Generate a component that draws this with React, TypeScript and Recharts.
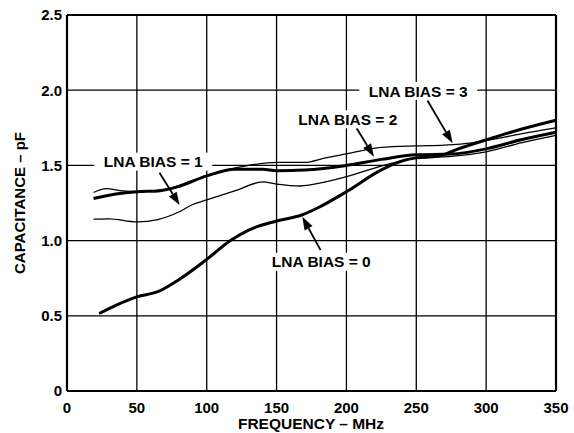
import { LineChart, Line, XAxis, YAxis, CartesianGrid, ReferenceLine, ReferenceDot, Label } from 'recharts'

const freqTicks = [0, 50, 100, 150, 200, 250, 300, 350]
const capTicks = [0, 0.5, 1, 1.5, 2, 2.5]

// LNA BIAS = 0 (heavy line)
const bias0Freq = [23, 35, 50, 65, 80, 100, 117, 130, 150, 168, 180, 200, 225, 240, 250, 265, 280, 300, 325, 350]
const bias0Cap = [0.515, 0.57, 0.626, 0.66, 0.74, 0.875, 1.0, 1.07, 1.13, 1.17, 1.22, 1.325, 1.47, 1.53, 1.55, 1.56, 1.61, 1.67, 1.74, 1.8]

// LNA BIAS = 1 (light line)
const bias1Freq = [19, 30, 50, 65, 80, 90, 100, 120, 140, 150, 167, 185, 200, 232, 250, 275, 300, 325, 350]
const bias1Cap = [1.143, 1.145, 1.125, 1.14, 1.19, 1.24, 1.27, 1.33, 1.39, 1.376, 1.363, 1.39, 1.425, 1.514, 1.55, 1.56, 1.59, 1.65, 1.7]

// LNA BIAS = 2 (heavy line)
const bias2Freq = [19, 35, 50, 65, 80, 100, 120, 140, 150, 170, 200, 225, 250, 275, 300, 325, 350]
const bias2Cap = [1.28, 1.31, 1.325, 1.33, 1.36, 1.43, 1.475, 1.475, 1.465, 1.47, 1.5, 1.54, 1.57, 1.575, 1.61, 1.67, 1.72]

// LNA BIAS = 3 (light line)
const bias3Freq = [19, 28, 40, 50, 70, 90, 110, 130, 150, 170, 185, 200, 225, 250, 270, 290, 300, 325, 350]
const bias3Cap = [1.32, 1.345, 1.33, 1.325, 1.34, 1.4, 1.46, 1.5, 1.52, 1.52, 1.55, 1.576, 1.62, 1.63, 1.635, 1.65, 1.665, 1.71, 1.75]

const labelTexts = ['LNA BIAS = 0', 'LNA BIAS = 1', 'LNA BIAS = 2', 'LNA BIAS = 3']
const labelFreq = [182, 61.7, 201, 251.4]
const labelCap = [0.859, 1.525, 1.807, 1.995]
const arrowFrom = [[181.5, 0.937], [66.2, 1.451], [207.3, 1.747], [258, 1.931]]
const arrowTo = [[168.4, 1.158], [80.6, 1.236], [219.7, 1.558], [276, 1.647]]

const toRows = (fs: number[], cs: number[]) => fs.map((f, i) => ({ f, c: cs[i] }))

const FONT = '"Liberation Sans", Arial, Helvetica, sans-serif'

function Arrow(p: any) {
  const { x1, y1, x2, y2 } = p
  const dx = x2 - x1
  const dy = y2 - y1
  const len = Math.sqrt(dx * dx + dy * dy)
  const ux = dx / len
  const uy = dy / len
  const hl = 13
  const hw = 4.5
  const bx = x2 - ux * hl
  const by = y2 - uy * hl
  return (
    <g>
      <line x1={x1} y1={y1} x2={bx} y2={by} stroke="#000" strokeWidth={1.8} />
      <polygon
        points={`${x2},${y2} ${bx - uy * hw},${by + ux * hw} ${bx + uy * hw},${by - ux * hw}`}
        fill="#000"
      />
    </g>
  )
}

function TextTag(text: string) {
  return (p: any) => (
    <g>
      <rect x={p.cx - 59} y={p.cy - 9} width={118} height={18} fill="#fff" />
      <text x={p.cx} y={p.cy} dy="0.36em" textAnchor="middle" fontFamily={FONT} fontWeight="bold" fontSize={15.5} fill="#000">
        {text}
      </text>
    </g>
  )
}

export default function App() {
  const series = [
    { key: 'b0', data: toRows(bias0Freq, bias0Cap), w: 3 },
    { key: 'b1', data: toRows(bias1Freq, bias1Cap), w: 1.3 },
    { key: 'b2', data: toRows(bias2Freq, bias2Cap), w: 3 },
    { key: 'b3', data: toRows(bias3Freq, bias3Cap), w: 1.3 },
  ]
  const tickStyle = { fontFamily: FONT, fontWeight: 'bold', fontSize: 15, fill: '#000' }

  return (
    <div style={{ position: 'absolute', left: 0, top: 0, background: '#fff' }}>
      <LineChart width={574} height={433} margin={{ top: 15, right: 18, bottom: 12, left: 10 }}>
        <CartesianGrid stroke="#000" strokeWidth={1.3} />
        <XAxis
          type="number"
          dataKey="f"
          domain={[0, 350]}
          ticks={freqTicks}
          allowDuplicatedCategory={false}
          height={30}
          tickLine={false}
          tickSize={0}
          tickMargin={11}
          axisLine={{ stroke: '#000', strokeWidth: 2.2 }}
          tick={tickStyle}
          interval={0}
        >
          <Label
            content={() => (
              <text x={311} y={429} textAnchor="middle" fontFamily={FONT} fontWeight="bold" fontSize={15.5} fill="#000">
                FREQUENCY – MHz
              </text>
            )}
          />
        </XAxis>
        <YAxis
          type="number"
          domain={[0, 2.5]}
          ticks={capTicks}
          width={57}
          tickLine={false}
          tickSize={0}
          tickMargin={5}
          axisLine={{ stroke: '#000', strokeWidth: 2.2 }}
          tick={tickStyle}
          interval={0}
          tickFormatter={(v: number) => (v === 0 ? '0' : v.toFixed(1))}
        >
          <Label
            content={() => (
              <text
                x={20}
                y={203}
                transform="rotate(-90 20 203)"
                dy="0.36em"
                textAnchor="middle"
                fontFamily={FONT}
                fontWeight="bold"
                fontSize={15}
                fill="#000"
              >
                CAPACITANCE – pF
              </text>
            )}
          />
        </YAxis>
        <ReferenceLine y={2.5} stroke="#000" strokeWidth={2.2} />
        <ReferenceLine x={350} stroke="#000" strokeWidth={2.2} />
        {series.map((s) => (
          <Line
            key={s.key}
            data={s.data}
            dataKey="c"
            type="monotone"
            stroke="#000"
            strokeWidth={s.w}
            dot={false}
            activeDot={false}
            isAnimationActive={false}
          />
        ))}
        {labelTexts.map((t, i) => (
          <ReferenceLine
            key={'a' + i}
            segment={[
              { x: arrowFrom[i][0], y: arrowFrom[i][1] },
              { x: arrowTo[i][0], y: arrowTo[i][1] },
            ]}
            shape={Arrow}
          />
        ))}
        {labelTexts.map((t, i) => (
          <ReferenceDot key={'t' + i} x={labelFreq[i]} y={labelCap[i]} r={1} shape={TextTag(t)} />
        ))}
      </LineChart>
    </div>
  )
}
